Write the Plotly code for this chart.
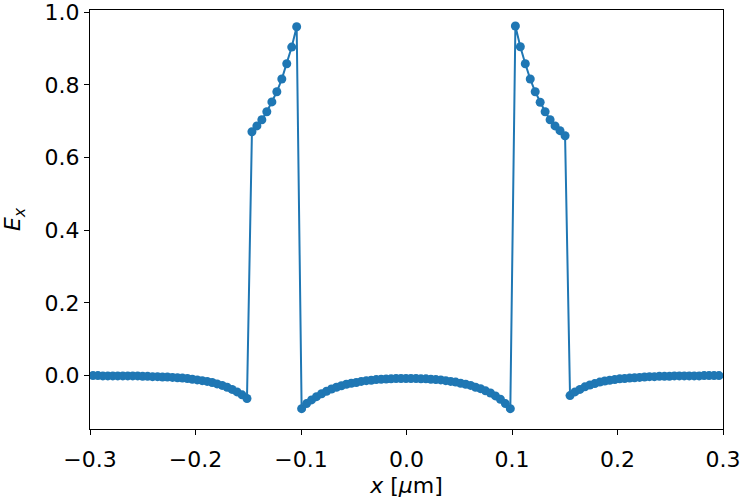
import plotly.graph_objects as go

# sample positions along x (um)
X_LEFT = [
    -0.2972, -0.2925, -0.2878, -0.2831, -0.2784, -0.2737, -0.2689, -0.2642,
    -0.2595, -0.2548, -0.2501, -0.2454, -0.2407, -0.2360, -0.2313, -0.2266,
    -0.2218, -0.2171, -0.2124, -0.2077, -0.2030, -0.1983, -0.1936, -0.1889,
    -0.1842, -0.1795, -0.1747, -0.1700, -0.1653, -0.1606, -0.1559, -0.1512,
]
X_SLAB_L = [
    -0.1465, -0.1418, -0.1371, -0.1324, -0.1276, -0.1229, -0.1182, -0.1135,
    -0.1088, -0.1041,
]
X_GAP = [
    -0.0994, -0.0947, -0.0900, -0.0853, -0.0805, -0.0758, -0.0711, -0.0664,
    -0.0617, -0.0570, -0.0523, -0.0476, -0.0429, -0.0381, -0.0334, -0.0287,
    -0.0240, -0.0193, -0.0146, -0.0099, -0.0052, -0.0005, 0.0042, 0.0090,
    0.0137, 0.0184, 0.0231, 0.0278, 0.0325, 0.0372, 0.0419, 0.0466,
    0.0513, 0.0561, 0.0608, 0.0655, 0.0702, 0.0749, 0.0796, 0.0843,
    0.0890, 0.0937, 0.0984,
]
X_SLAB_R = [
    0.1032, 0.1079, 0.1126, 0.1173, 0.1220, 0.1267, 0.1314, 0.1361,
    0.1408, 0.1455, 0.1503,
]
X_RIGHT = [
    0.1550, 0.1597, 0.1644, 0.1691, 0.1738, 0.1785, 0.1832, 0.1879,
    0.1926, 0.1974, 0.2021, 0.2068, 0.2115, 0.2162, 0.2209, 0.2256,
    0.2303, 0.2350, 0.2397, 0.2445, 0.2492, 0.2539, 0.2586, 0.2633,
    0.2680, 0.2727, 0.2774, 0.2821, 0.2868, 0.2915, 0.2962,
]

# Ex, segment by segment
EX_LEFT = [
    -0.000, -0.000, -0.001, -0.001, -0.001, -0.001, -0.001, -0.001,
    -0.001, -0.001, -0.002, -0.002, -0.003, -0.003, -0.004, -0.004,
    -0.005, -0.006, -0.007, -0.008, -0.010, -0.012, -0.014, -0.016,
    -0.019, -0.023, -0.027, -0.032, -0.038, -0.045, -0.053, -0.063,
]
EX_SLAB_L = [0.671, 0.687, 0.704, 0.726, 0.753, 0.781, 0.816, 0.858, 0.904, 0.960]
EX_GAP = [
    -0.091, -0.077, -0.067, -0.058, -0.050, -0.043, -0.037, -0.032,
    -0.028, -0.024, -0.021, -0.019, -0.016, -0.014, -0.013, -0.011,
    -0.010, -0.0095, -0.009, -0.008, -0.008, -0.008, -0.008, -0.008,
    -0.009, -0.009, -0.010, -0.011, -0.012, -0.014, -0.016, -0.018,
    -0.021, -0.024, -0.027, -0.032, -0.036, -0.042, -0.048, -0.056,
    -0.065, -0.077, -0.091,
]
EX_SLAB_R = [0.962, 0.905, 0.858, 0.816, 0.781, 0.752, 0.726, 0.704, 0.687, 0.674, 0.660]
EX_RIGHT = [
    -0.055, -0.045, -0.038, -0.031, -0.026, -0.022, -0.018, -0.015,
    -0.013, -0.011, -0.009, -0.008, -0.007, -0.006, -0.005, -0.004,
    -0.003, -0.003, -0.002, -0.002, -0.002, -0.001, -0.001, -0.001,
    -0.001, -0.001, -0.001, -0.000, -0.000, -0.000, -0.000,
]

X_TICKS = [-0.3, -0.2, -0.1, 0.0, 0.1, 0.2, 0.3]
Y_TICKS = [0.0, 0.2, 0.4, 0.6, 0.8, 1.0]

BLUE = "#1f77b4"
FONT = "DejaVu Sans"

x = X_LEFT + X_SLAB_L + X_GAP + X_SLAB_R + X_RIGHT
ex = EX_LEFT + EX_SLAB_L + EX_GAP + EX_SLAB_R + EX_RIGHT

fig = go.Figure()
fig.add_trace(
    go.Scatter(
        x=x,
        y=ex,
        mode="lines+markers",
        line=dict(color=BLUE, width=2),
        marker=dict(color=BLUE, size=9),
        showlegend=False,
    )
)

axis_style = dict(
    showgrid=False,
    zeroline=False,
    showline=True,
    linecolor="black",
    linewidth=1.1,
    mirror=True,
    ticks="outside",
    ticklen=5,
    tickwidth=1.1,
    tickcolor="black",
    tickfont=dict(family=FONT, size=22, color="black"),
    tickformat=".1f",
    ticklabeloverflow="allow",
    automargin=False,
)

fig.update_xaxes(
    range=[-0.3, 0.3],
    tickvals=X_TICKS,
    ticklabelstandoff=6,
    title=dict(text="<i>x</i> [<i>μ</i>m]", font=dict(family=FONT, size=22, color="black"), standoff=6),
    **axis_style,
)
fig.update_yaxes(
    range=[-0.147, 1.006],
    tickvals=Y_TICKS,
    title=dict(text="<i>E</i><sub><i>x</i></sub>", font=dict(family=FONT, size=22, color="black"), standoff=30),
    **axis_style,
)
fig.update_layout(
    width=744,
    height=504,
    margin=dict(l=90, r=21, t=10, b=75),
    paper_bgcolor="white",
    plot_bgcolor="white",
    font=dict(family=FONT, size=22, color="black"),
)

# drop the default page margin so the figure sits at the window corner
fig.write_html(
    "out.html",
    config={"displayModeBar": False},
    post_script="document.body.style.margin='0'; document.body.style.overflow='hidden';",
)
